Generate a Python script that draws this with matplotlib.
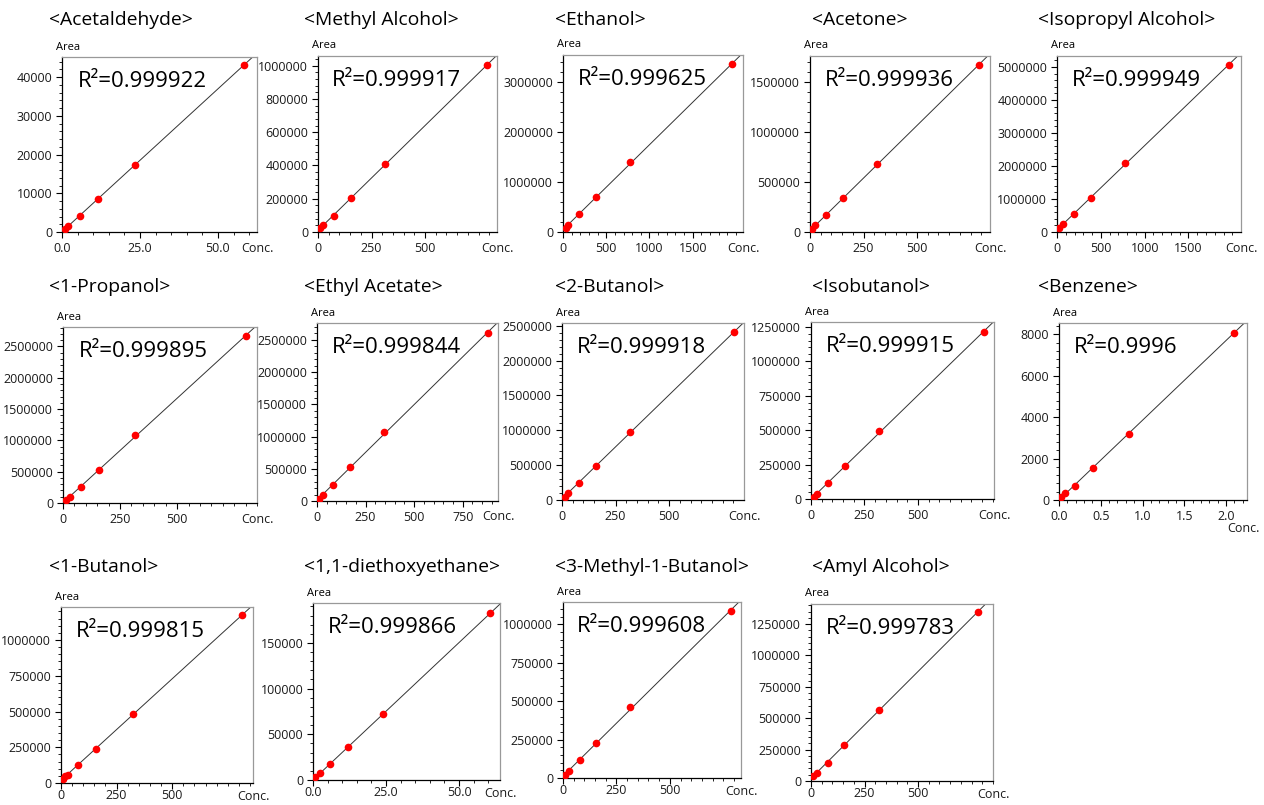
import numpy as np
import matplotlib
matplotlib.use("Agg")
import matplotlib.pyplot as plt
from matplotlib.ticker import FixedLocator, FuncFormatter, AutoMinorLocator
from matplotlib.transforms import offset_copy

plt.rcParams["font.family"] = ["Open Sans", "DejaVu Sans"]

# ---------------------------------------------------------------------------
# Data: calibration points (Conc. vs Area)
# ---------------------------------------------------------------------------
names = ["Acetaldehyde", "Methyl Alcohol", "Ethanol", "Acetone", "Isopropyl Alcohol",
         "1-Propanol", "Ethyl Acetate", "2-Butanol", "Isobutanol", "Benzene",
         "1-Butanol", "1,1-diethoxyethane", "3-Methyl-1-Butanol", "Amyl Alcohol"]
r2_values = ["0.999922", "0.999917", "0.999625", "0.999936", "0.999949",
             "0.999895", "0.999844", "0.999918", "0.999915", "0.9996",
             "0.999815", "0.999866", "0.999608", "0.999783"]

acetaldehyde_conc = [1.0, 2.0, 5.8, 11.4, 23.3, 58.4]
acetaldehyde_area = [850, 1630, 4050, 8530, 17400, 43150]
methanol_conc = [9.3, 24.9, 76, 154, 311, 791]
methanol_area = [21600, 43800, 97800, 204000, 410000, 1004000]
ethanol_conc = [31, 62, 186, 380, 775, 1957]
ethanol_area = [73000, 140000, 360000, 707000, 1406000, 3354000]
acetone_conc = [9.4, 25, 75, 156, 312, 789]
acetone_area = [27000, 70000, 170000, 337000, 680000, 1670000]
ipa_conc = [27, 65, 191, 383, 776, 1961]
ipa_area = [120000, 230000, 540000, 1040000, 2080000, 5060000]
propanol_conc = [15, 29, 78, 158, 317, 800]
propanol_area = [46000, 99000, 260000, 532000, 1088000, 2663000]
etoac_conc = [9, 29, 83, 169, 347, 880]
etoac_area = [31000, 100000, 245000, 527000, 1062500, 2610000]
butan2ol_conc = [12.7, 26.7, 78, 157, 317, 802]
butan2ol_area = [47000, 100000, 239000, 490000, 981000, 2404000]
isobutanol_conc = [12, 28, 78, 159, 320, 808]
isobutanol_area = [12000, 38000, 116000, 242000, 491000, 1213000]
benzene_conc = [0.028, 0.072, 0.193, 0.41, 0.835, 2.09]
benzene_area = [160, 350, 690, 1530, 3170, 8080]
butanol_conc = [7, 18, 30, 78, 158, 322, 815]
butanol_area = [30000, 47000, 58000, 125000, 241000, 486000, 1174000]
diethoxy_conc = [0.8, 2.3, 5.9, 12.0, 24.1, 60.7]
diethoxy_area = [3700, 7300, 17100, 35700, 72000, 183000]
isoamyl_conc = [11, 27, 78, 153, 313, 786]
isoamyl_area = [21000, 47000, 116000, 226000, 459000, 1087000]
amyl_conc = [11, 26, 78, 156, 316, 780]
amyl_area = [40000, 66000, 145000, 290000, 566000, 1347000]

concs = [acetaldehyde_conc, methanol_conc, ethanol_conc, acetone_conc, ipa_conc,
         propanol_conc, etoac_conc, butan2ol_conc, isobutanol_conc, benzene_conc,
         butanol_conc, diethoxy_conc, isoamyl_conc, amyl_conc]
areas = [acetaldehyde_area, methanol_area, ethanol_area, acetone_area, ipa_area,
         propanol_area, etoac_area, butan2ol_area, isobutanol_area, benzene_area,
         butanol_area, diethoxy_area, isoamyl_area, amyl_area]

# axis ranges and tick labels
x_max = [62.5, 836, 2081, 841, 2099, 850, 932, 849, 856, 2.25, 863, 64, 833, 850]
y_max = [45200, 1058000, 3540000, 1760000, 5330000, 2810000, 2760000, 2540000,
         1285000, 8545, 1231000, 193700, 1145000, 1410000]
x_ticks = [[0, 25, 50], [0, 250, 500], [0, 500, 1000, 1500], [0, 250, 500],
           [0, 500, 1000, 1500], [0, 250, 500], [0, 250, 500, 750], [0, 250, 500],
           [0, 250, 500], [0, 0.5, 1.0, 1.5, 2.0], [0, 250, 500], [0, 25, 50],
           [0, 250, 500], [0, 250, 500]]
y_steps = [10000, 200000, 1000000, 500000, 1000000, 500000, 500000, 500000,
           250000, 2000, 250000, 50000, 250000, 250000]
decimal_x = [True, False, False, False, False, False, False, False, False, True,
             False, True, False, False]

# ---------------------------------------------------------------------------
# Layout (pixels: left, right, top, bottom of each plot box)
# ---------------------------------------------------------------------------
W, H = 1264, 805
boxes = [(62, 257, 57, 232), (318, 497, 56, 232), (563, 743, 55, 232),
         (810, 990, 56, 232), (1057, 1241, 56, 232),
         (63, 257, 327, 503), (317, 498, 323, 501), (562, 744, 323, 500),
         (811, 994, 322, 499), (1059, 1247, 323, 500),
         (61, 253, 607, 783), (313, 500, 603, 780), (563, 741, 602, 778),
         (811, 993, 604, 781)]
title_x = [49, 304, 555, 812, 1038]
title_y = [20, 287, 567]

fig = plt.figure(figsize=(W / 100, H / 100), dpi=100)

for i, name in enumerate(names):
    l, r, t, b = boxes[i]
    ax = fig.add_axes([l / W, 1 - b / H, (r - l) / W, (b - t) / H])
    bottom_row = i >= 10

    x = np.array(concs[i], dtype=float)
    y = np.array(areas[i], dtype=float)
    slope, icpt = np.polyfit(x, y, 1)
    xl = np.array([0, x_max[i]])
    ax.plot(xl, slope * xl + icpt, color="#333333", linewidth=0.7, zorder=2)
    ax.plot(x, y, "o", color="red", markersize=5.5, markeredgewidth=0, zorder=3)

    ax.set_xlim(0, x_max[i])
    ax.set_ylim(0, y_max[i])

    ax.xaxis.set_major_locator(FixedLocator(x_ticks[i]))
    if decimal_x[i]:
        ax.xaxis.set_major_formatter(FuncFormatter(lambda v, p: f"{v:.1f}"))
    else:
        ax.xaxis.set_major_formatter(FuncFormatter(lambda v, p: f"{v:.0f}"))
    yt = np.arange(0, y_max[i], y_steps[i])
    ax.yaxis.set_major_locator(FixedLocator(yt))
    ax.yaxis.set_major_formatter(FuncFormatter(lambda v, p: f"{v:.0f}"))
    ax.xaxis.set_minor_locator(AutoMinorLocator(5))
    ax.yaxis.set_minor_locator(AutoMinorLocator(5))

    ax.tick_params(which="major", direction="out", length=4, width=0.8,
                   labelsize=9, pad=3, colors="black")
    ax.tick_params(which="minor", direction="out", length=2, width=0.6)
    ax.tick_params(labelcolor="#1a1a1a")
    if bottom_row:
        ax.tick_params(axis="x", which="major", pad=0.5)
    for s in ["left", "bottom"]:
        ax.spines[s].set_color("black")
        ax.spines[s].set_linewidth(0.9)
    for s in ["top", "right"]:
        ax.spines[s].set_color("#999999")
        ax.spines[s].set_linewidth(0.9)

    ax.text(0.08, 0.86, "R²=" + r2_values[i], transform=ax.transAxes,
            fontsize=16, ha="left", va="center")

    area_tr = offset_copy(ax.transAxes, fig=fig, x=6, y=10, units="dots")
    ax.text(0, 1, "Area", transform=area_tr, fontsize=8, ha="center", va="center")
    if name == "Benzene":
        conc_tr = offset_copy(ax.transAxes, fig=fig, x=-4, y=-29, units="dots")
    elif bottom_row:
        conc_tr = offset_copy(ax.transAxes, fig=fig, x=0, y=-13, units="dots")
    else:
        conc_tr = offset_copy(ax.transAxes, fig=fig, x=0, y=-16, units="dots")
    ax.text(1, 0, "Conc.", transform=conc_tr, fontsize=9, ha="center",
            va="center", color="#1a1a1a")

    fig.text(title_x[i % 5] / W, 1 - title_y[i // 5] / H, f"<{name}>",
             fontsize=13.9, ha="left", va="center")

fig.savefig("out.png", dpi=100)
plt.close(fig)
